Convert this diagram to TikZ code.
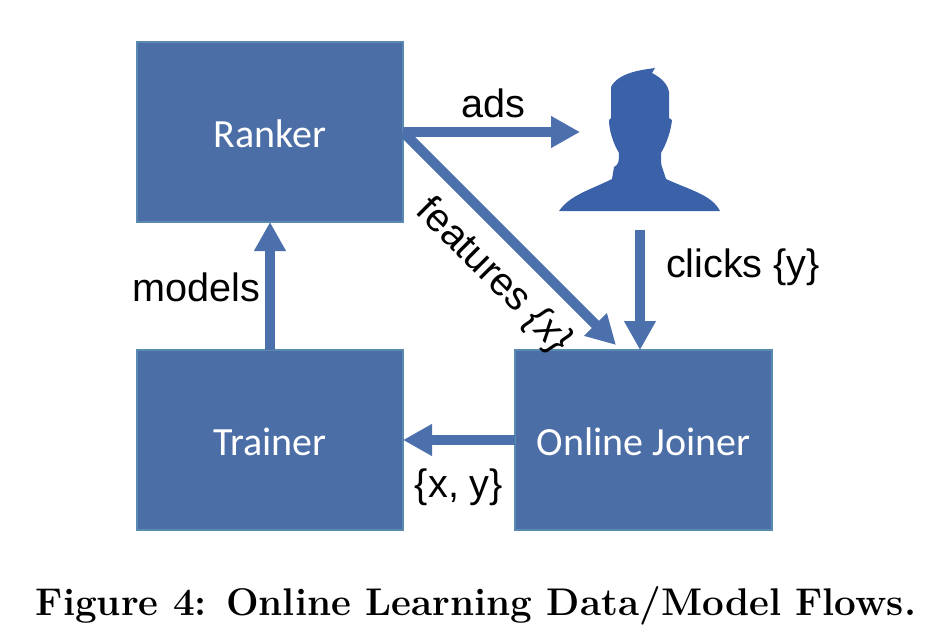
\documentclass[tikz,border=0pt]{standalone}
\usepackage{fontspec}
\usetikzlibrary{positioning,arrows.meta}
\newfontfamily\boxfont{Carlito}
\newfontfamily\labelfont{Liberation Sans}
\definecolor{boxblue}{HTML}{4C6EA6}
\definecolor{boxedge}{HTML}{5A8AB2}
\definecolor{flowblue}{HTML}{4C70AC}
\definecolor{userblue}{HTML}{3B62A8}

\begin{document}
\begin{tikzpicture}[
        x=0.5pt, y=-0.5pt,
        block/.style={rectangle, draw=boxedge, fill=boxblue, line width=0.6pt, outer sep=0pt, inner sep=0pt, text=white, font=\boxfont\fontsize{20}{24}\selectfont, text height=15.8pt, text depth=0pt, minimum height=90pt},
        flow/.style={draw=flowblue, line width=5pt, -{Triangle[length=14.5pt,width=15pt]}},
        flowlabel/.style={font=\labelfont\fontsize{19.8}{23}\selectfont, inner sep=0pt},
        node distance= 64pt and 56pt
        ]
        \useasboundingbox (0,0) rectangle (928,638);

        \node[block, minimum width=133pt]   (ranker)    at (270,132)        {Ranker};
        \node[block, minimum width=133pt]   (trainer)   [below=of ranker]   {Trainer};
        \node[block, minimum width=128.5pt] (joiner)    [right=of trainer]  {Online Joiner};

        \coordinate (userIn)  at (580,132);
        \coordinate (userOut) at (640,230);
        \coordinate (joinerIn) at (616,345);

        %User
        \fill[userblue] (559,211) .. controls (570,195) and (590,190) .. (612,179)
            -- (614,167) .. controls (619,165) and (619,160) .. (619,153)
            .. controls (613,143) and (609,130) .. (609,120) -- (611,118) -- (611,87)
            .. controls (618,73) and (640,70) .. (655,68) -- (652,73)
            .. controls (662,78) and (668,85) .. (669,92) -- (669,118) -- (672,120)
            .. controls (671,130) and (667,143) .. (661,153)
            .. controls (661,160) and (661,165) .. (662,167) -- (666,179)
            .. controls (690,190) and (712,195) .. (720,211) -- cycle;

        %Lines
        \draw[flow] (ranker.east) -- (userIn) node[flowlabel, pos=0.51, above=4.5pt] {ads};
        \draw[flow] (ranker.east) -- (joinerIn) node[flowlabel, pos=0.55, sloped, below=7.5pt] {features {\itshape\{x\}}};
        \draw[flow] (userOut) -- (joiner.north -| userOut) node[flowlabel, pos=0.31, right=10.5pt] {clicks \{y\}};
        \draw[flow] (joiner.west) -- (trainer.east) node[flowlabel, pos=0.5, below=12pt] {\{x, y\}};
        \draw[flow] (trainer.north) -- (ranker.south) node[flowlabel, pos=0.49, left=2.5pt] {models};

        \node[font=\bfseries\fontsize{19.3}{23}\selectfont, inner sep=0pt] (caption) at (476,606) {Figure 4: Online Learning Data/Model Flows.};
\end{tikzpicture}
\end{document}
